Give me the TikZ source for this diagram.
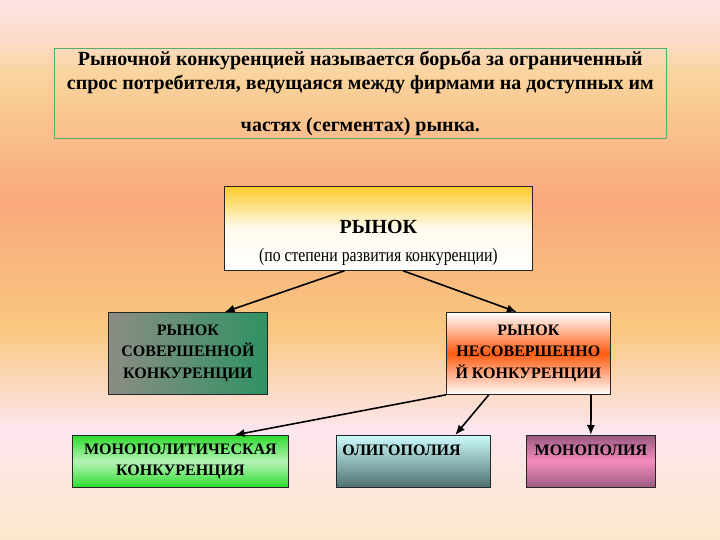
\documentclass[tikz,border=0pt]{standalone}
\usepackage{fontspec}
\setmainfont{Liberation Serif}
\newfontfamily\narrowfont[FakeStretch=0.83]{Liberation Serif}
\usepackage{tikz}
\usetikzlibrary{arrows.meta, calc}
% background
\definecolor{BgPink}{HTML}{FDE3E6}
\definecolor{BgPeach}{HTML}{FCDCC8}
\definecolor{BgSand}{HTML}{F9D49C}
\definecolor{BgOrange}{HTML}{F9A87C}
\definecolor{BgGold}{HTML}{F9C880}
\definecolor{BgRose}{HTML}{FDE6EE}
\definecolor{BgCream}{HTML}{FBE8CC}
% boxes
\definecolor{DefLine}{HTML}{5AAA70}
\definecolor{MarketGold}{HTML}{FCCB2A}
\definecolor{PerfGrey}{HTML}{8C8C84}
\definecolor{PerfGreen}{HTML}{2F9263}
\definecolor{ImpOrange}{HTML}{FF5A10}
\definecolor{MonoGreen}{HTML}{2EDC2E}
\definecolor{OligoCyan}{HTML}{CCFBFB}
\definecolor{OligoSlate}{HTML}{4F7070}
\definecolor{MonoMauve}{HTML}{9A5A80}
\definecolor{MonoPink}{HTML}{F58CC0}

\tikzset{
  box/.style={draw=black!85, line width=0.8pt, inner sep=2bp, align=center,
    anchor=north west},
  capsfont/.style={font=\fontsize{16bp}{21.5bp}\selectfont\bfseries},
  arrow/.style={line width=1.6pt, -{Latex[length=10bp, width=8bp]}}
}

\begin{document}
\begin{tikzpicture}[x=1bp, y=-1bp]
	\useasboundingbox (0,0) rectangle (720,540);

	\shade[top color=BgPink, bottom color=BgPeach] (0,0) rectangle (720,40);
	\shade[top color=BgPeach, bottom color=BgSand] (0,40) rectangle (720,75);
	\shade[top color=BgSand, bottom color=BgOrange] (0,75) rectangle (720,200);
	\shade[top color=BgOrange, bottom color=BgGold] (0,200) rectangle (720,330);
	\shade[top color=BgGold, bottom color=BgRose] (0,330) rectangle (720,430);
	\shade[top color=BgRose, bottom color=BgCream] (0,430) rectangle (720,540);

	\node[draw=DefLine, line width=0.7pt, anchor=north west, minimum width=612bp,
		minimum height=90bp, align=center, inner sep=0pt,
		font=\fontsize{20bp}{24bp}\selectfont\bfseries] (def) at (54,48)
		{Рыночной конкуренцией называется борьба за ограниченный\\
		 спрос потребителя, ведущаяся между фирмами на доступных им\\[18bp]
		 частях (сегментах) рынка.};

	\node[box, minimum width=308bp, minimum height=84bp, top color=MarketGold,
		bottom color=white, middle color=MarketGold!8!white] (market) at (224,186)
		{\rule{0pt}{42bp}{\fontsize{20bp}{24bp}\selectfont\bfseries РЫНОК}\\[13bp]
		 {\narrowfont\fontsize{19bp}{20bp}\selectfont (по степени развития конкуренции)}};

	\node[box, capsfont, minimum width=159bp, minimum height=82bp,
		left color=PerfGrey, right color=PerfGreen] (perfect) at (108,312)
		{РЫНОК\\СОВЕРШЕННОЙ\\КОНКУРЕНЦИИ};
	\node[box, capsfont, minimum width=164bp, minimum height=82bp,
		top color=white, bottom color=white, middle color=ImpOrange] (imperfect) at (446,312)
		{РЫНОК\\НЕСОВЕРШЕННО\\Й КОНКУРЕНЦИИ};

	\node[box, capsfont, minimum width=216bp, minimum height=52bp,
		top color=MonoGreen, bottom color=MonoGreen, middle color=MonoGreen!35!white] (monocomp) at (72,435)
		{МОНОПОЛИТИЧЕСКАЯ\\КОНКУРЕНЦИЯ};
	\node[box, capsfont, minimum width=154bp, minimum height=52bp, align=left,
		text width=142bp, top color=OligoCyan, bottom color=OligoSlate] (oligo) at (336,435)
		{ОЛИГОПОЛИЯ\\\mbox{}};
	\node[box, capsfont, minimum width=129bp, minimum height=52bp,
		top color=MonoMauve, bottom color=MonoMauve, middle color=MonoPink] (mono) at (526,435)
		{МОНОПОЛИЯ\\\mbox{}};

	\draw[arrow] ($ (market.south west)!0.39!(market.south east) $)
		-- ($ (perfect.north west)!0.73!(perfect.north east) $);
	\draw[arrow] ($ (market.south west)!0.58!(market.south east) $)
		-- ($ (imperfect.north west)!0.43!(imperfect.north east) $);
	\draw[arrow] (imperfect.south west)
		-- ($ (monocomp.north west)!0.75!(monocomp.north east) $);
	\draw[arrow] ($ (imperfect.south west)!0.26!(imperfect.south east) $)
		-- ($ (oligo.north west)!0.77!(oligo.north east) $);
	\draw[arrow] ($ (imperfect.south west)!0.88!(imperfect.south east) $)
		-- (mono.north);

\end{tikzpicture}
\end{document}
